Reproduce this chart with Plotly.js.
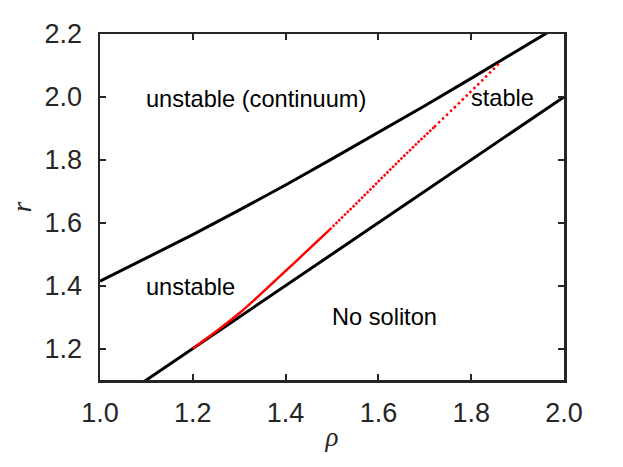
<!DOCTYPE html>
<html>
<head>
<meta charset="utf-8">
<script src="https://cdn.plot.ly/plotly-3.0.1.min.js"></script>
<style>html,body{margin:0;padding:0;background:#fff;}#chart{width:623px;height:467px;}</style>
</head>
<body>
<div id="chart"></div>
<script>
// Upper boundary (continuum edge)
const rhoUpper = [1.0, 1.1, 1.2, 1.3, 1.4, 1.5, 1.6, 1.7, 1.8, 1.9, 2.0];
const rUpper   = [1.414, 1.487, 1.562, 1.640, 1.720, 1.803, 1.887, 1.972, 2.059, 2.147, 2.236];
// Lower boundary (no soliton edge)
const rhoLower = [1.08, 2.0];
const rLower   = [1.08, 2.0];
// Stability threshold (red)
const rhoStab = [1.2, 1.25, 1.30, 1.355, 1.42, 1.495, 1.57, 1.646, 1.72, 1.793, 1.86];
const rStab   = [1.2, 1.254, 1.312, 1.385, 1.474, 1.578, 1.687, 1.799, 1.904, 2.008, 2.106];
// Tick values / labels
const xTicks = [1.0, 1.2, 1.4, 1.6, 1.8, 2.0];
const xTickText = ["1.0", "1.2", "1.4", "1.6", "1.8", "2.0"];
const yTicks = [1.2, 1.4, 1.6, 1.8, 2.0, 2.2];
const yTickText = ["1.2", "1.4", "1.6", "1.8", "2.0", "2.2"];
// Region labels
const labelText = ["unstable (continuum)", "stable", "unstable", "No soliton"];
const labelRho  = [1.101, 1.801, 1.101, 1.5016];
const labelR    = [1.993, 1.996, 1.3955, 1.300];

const traces = [
  {x: rhoUpper, y: rUpper, mode: 'lines', line: {color: '#000', width: 3}, hoverinfo: 'skip'},
  {x: rhoLower, y: rLower, mode: 'lines', line: {color: '#000', width: 3}, hoverinfo: 'skip'},
  {x: rhoStab.slice(0, 6), y: rStab.slice(0, 6), mode: 'lines', line: {color: '#ff0000', width: 2.5, shape: 'spline'}, hoverinfo: 'skip'},
  {x: rhoStab.slice(5, 9), y: rStab.slice(5, 9), mode: 'lines', line: {color: '#ff0000', width: 2.5, dash: '2.5px,1.5px', shape: 'spline'}, hoverinfo: 'skip'},
  {x: rhoStab.slice(8), y: rStab.slice(8), mode: 'lines', line: {color: '#ff0000', width: 2.5, dash: '2.5px,3px', shape: 'spline'}, hoverinfo: 'skip'}
];

const annotations = labelText.map((t, i) => ({
  x: labelRho[i], y: labelR[i], xref: 'x', yref: 'y', text: t, showarrow: false,
  xanchor: 'left', yanchor: 'middle', xshift: -3,
  font: {family: 'Liberation Sans, Arial, sans-serif', size: 23.6, color: '#000'}
}));

const axisCommon = {
  showgrid: false, zeroline: false, showline: true, mirror: 'ticks',
  linecolor: '#262626', linewidth: 2.5,
  ticks: 'inside', ticklen: 6, tickwidth: 2, tickcolor: '#262626',
  tickfont: {family: 'Liberation Sans, Arial, sans-serif', size: 27, color: '#262626'},
  tickmode: 'array'
};

const layout = {
  width: 623, height: 467,
  margin: {l: 100, r: 59, t: 34, b: 87},
  paper_bgcolor: '#fff', plot_bgcolor: '#fff',
  showlegend: false,
  xaxis: Object.assign({}, axisCommon, {
    range: [1.0, 2.0], tickvals: xTicks, ticktext: xTickText, ticklabelstandoff: 7,
    title: {text: '<i>ρ</i>', font: {family: 'Liberation Serif, Times New Roman, serif', size: 27, color: '#262626'}, standoff: 0}
  }),
  yaxis: Object.assign({}, axisCommon, {
    range: [1.1, 2.2], tickvals: yTicks, ticktext: yTickText, ticklabelstandoff: 10,
    title: {text: '<i>r</i>', font: {family: 'Liberation Serif, Times New Roman, serif', size: 27, color: '#262626'}, standoff: 5}
  }),
  annotations: annotations
};

Plotly.newPlot('chart', traces, layout, {staticPlot: true, displayModeBar: false});
</script>
</body>
</html>
